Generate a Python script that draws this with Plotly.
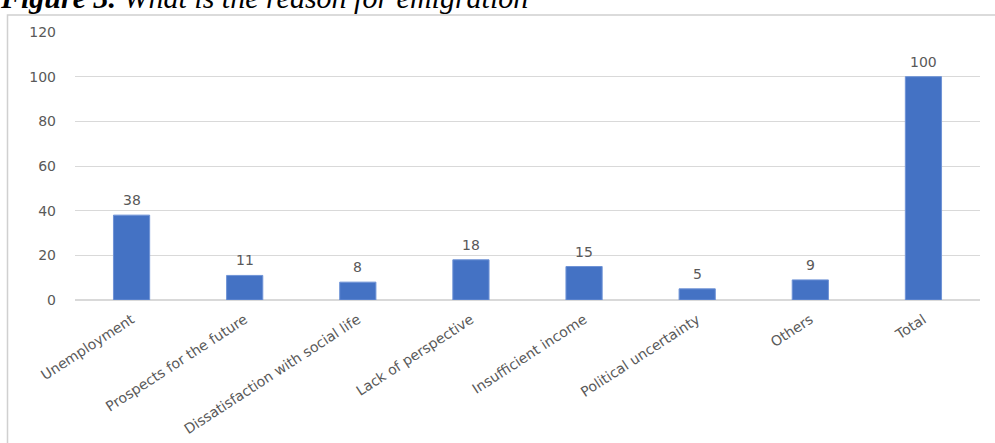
import plotly.graph_objects as go

# Survey answers: reasons for emigration (percent of respondents)
categories = [
    "Unemployment",
    "Prospects for the future",
    "Dissatisfaction with social life",
    "Lack of perspective",
    "Insufficient income",
    "Political uncertainty",
    "Others",
    "Total",
]
values = [38, 11, 8, 18, 15, 5, 9, 100]
y_ticks = [0, 20, 40, 60, 80, 100, 120]

W, H = 995, 443
ML, MR, MT, MB = 75, 15, 32, 143
plot_w = W - ML - MR
plot_h = H - MT - MB


def px_x(p):
    return (p - ML) / plot_w


def px_y(p):
    return (H - MB - p) / plot_h


grey_text = "#595959"
grid = "#d9d9d9"
label_font = "DejaVu Sans"

fig = go.Figure()
fig.add_trace(go.Bar(
    x=categories,
    y=values,
    marker=dict(color="#4472C4", line=dict(color="#6f93d6", width=1)),
    width=0.32,
    hoverinfo="x+y",
))

# value labels above each bar
for c, v in zip(categories, values):
    fig.add_annotation(
        x=c, y=v, xref="x", yref="y",
        text=str(v), showarrow=False,
        yanchor="bottom", yshift=5,
        font=dict(family=label_font, size=14, color=grey_text),
    )

# chart frame (extends past the bottom and right of the page)
fig.add_shape(
    type="rect", xref="paper", yref="paper",
    x0=px_x(7.5), x1=px_x(1010), y0=px_y(470), y1=px_y(15),
    line=dict(color="#d0d0d0", width=1.5), layer="below",
)

# figure caption, running off the top edge of the page
fig.add_annotation(
    xref="paper", yref="paper", x=px_x(-2), y=px_y(16),
    xanchor="left", yanchor="bottom", showarrow=False,
    text="<b><i>Figure 3.</i></b><i> What is the reason for emigration</i>",
    font=dict(family="Liberation Serif", size=30, color="#000000"),
    align="left",
)

fig.update_layout(
    width=W, height=H,
    margin=dict(l=ML, r=MR, t=MT, b=MB, autoexpand=False),
    paper_bgcolor="white", plot_bgcolor="white",
    showlegend=False,
    font=dict(family=label_font, color=grey_text),
)
fig.update_xaxes(
    tickangle=-33,
    tickfont=dict(family=label_font, size=14, color=grey_text),
    showgrid=False, showline=False, ticks="",
    range=[-0.5, len(categories) - 0.5],
    ticklabelstandoff=8,
)
fig.update_yaxes(
    range=[0, 120], tickvals=y_ticks,
    tickfont=dict(family=label_font, size=14, color=grey_text),
    showgrid=True, gridcolor=grid, gridwidth=1,
    zeroline=True, zerolinecolor=grid, zerolinewidth=1.5,
    showline=False, ticks="", ticklabelstandoff=18,
)

fig.write_html("out.html")
